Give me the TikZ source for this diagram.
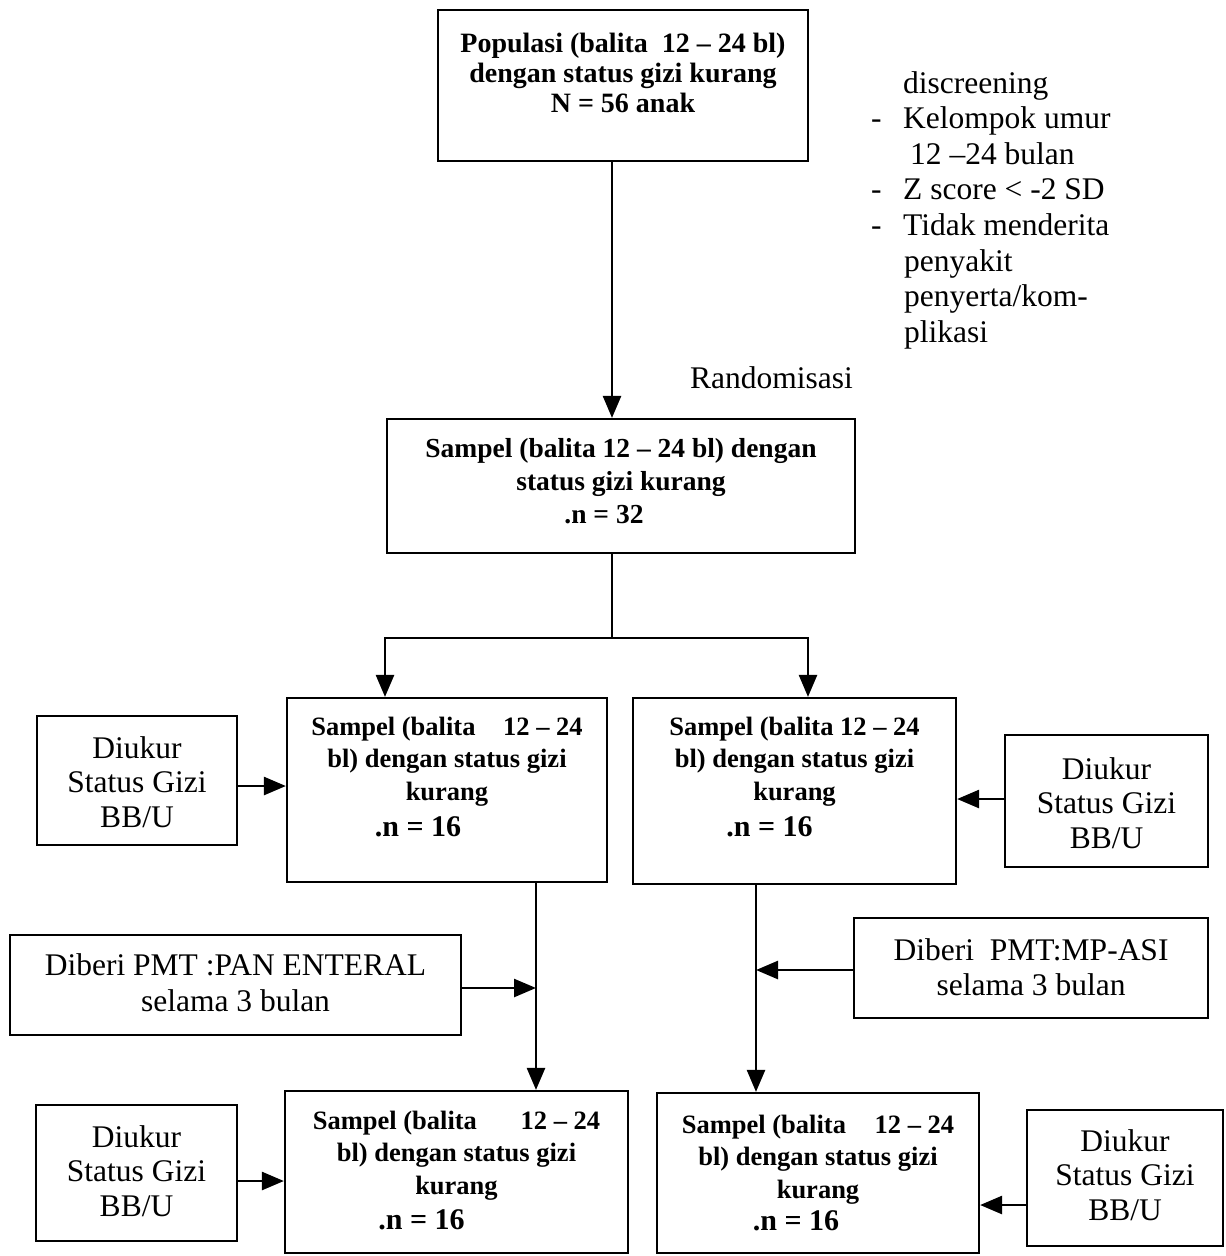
\documentclass[tikz,border=0pt]{standalone}
\usepackage{fontspec}
\setmainfont{Liberation Serif}
\usetikzlibrary{arrows.meta}
\newcommand\mkbox[5]{\node[bx, minimum width={(#4-#2)*1pt}, minimum height={(#5-#3)*1pt}] (#1) at ({(#2+#4)/2},{(#3+#5)/2}) {};}
\newcommand\tl[2]{\parbox[t]{#1}{\centering #2}}
\newcommand\nn{\fontsize{30}{32.5}\selectfont}
\tikzset{
  bx/.style={draw, line width=2.2pt, inner sep=0pt, rectangle},
  ln/.style={line width=2.6pt},
  ar/.style={line width=2.6pt, -{Triangle[length=22pt,width=18pt]}},
  rt/.style={anchor=base, inner sep=0pt, font=\fontsize{31.5}{34.5}\selectfont},
  bt/.style={anchor=base, inner sep=0pt, font=\bfseries\fontsize{26.5}{32.5}\selectfont},
}
\begin{document}
\begin{tikzpicture}[x=1pt,y=-1pt]
\useasboundingbox[fill=white] (0,0) rectangle (1226,1256);

% boxes
\mkbox{pop}{438}{10}{808}{161}
\mkbox{s2}{387}{419}{855}{553}
\mkbox{b3L}{287}{698}{607}{882}
\mkbox{b3R}{633}{698}{956}{884}
\mkbox{dL1}{37}{716}{237}{845}
\mkbox{dR1}{1005}{735}{1208}{867}
\mkbox{pan}{10}{935}{461}{1035}
\mkbox{mp}{854}{918}{1208}{1018}
\mkbox{b4L}{285}{1091}{628}{1253}
\mkbox{b4R}{657}{1093}{979}{1253}
\mkbox{dL2}{36}{1105}{237}{1241}
\mkbox{dR2}{1027}{1110}{1223}{1246}

% texts
\node[bt, font=\bfseries\fontsize{28}{30}\selectfont] (popt) at (623,52) {\tl{360pt}{Populasi (balita\ \ 12 – 24 bl)\\dengan status gizi kurang\\N = 56 anak}};
\node[bt, font=\bfseries\fontsize{27.5}{33}\selectfont] (s2t) at (621,457) {\tl{460pt}{Sampel (balita 12 – 24 bl) dengan\\status gizi kurang\\\hspace*{-34pt}.n = 32}};
\node[bt] (b3Lt) at (447,735) {\tl{315pt}{Sampel (balita\hspace{21pt} 12 – 24\\bl) dengan status gizi\\kurang\\[4pt]\hspace*{-58pt}{\nn .n = 16}}};
\node[bt] (b3Rt) at (794.5,735) {\tl{315pt}{Sampel (balita 12 – 24\\bl) dengan status gizi\\kurang\\[4pt]\hspace*{-50pt}{\nn .n = 16}}};
\node[bt] (b4Lt) at (456.5,1129) {\tl{335pt}{Sampel (balita\hspace{37pt} 12 – 24\\bl) dengan status gizi\\kurang\\[3pt]\hspace*{-70pt}{\nn .n = 16}}};
\node[bt] (b4Rt) at (818,1133) {\tl{315pt}{Sampel (balita\hspace{22pt} 12 – 24\\bl) dengan status gizi\\kurang\\[0pt]\hspace*{-44pt}{\nn .n = 16}}};
\node[rt] (dL1t) at (137,758) {\tl{195pt}{Diukur\\Status Gizi\\BB/U}};
\node[rt] (dR1t) at (1106.5,779) {\tl{195pt}{Diukur\\Status Gizi\\BB/U}};
\node[rt] (dL2t) at (136.5,1147) {\tl{195pt}{Diukur\\Status Gizi\\BB/U}};
\node[rt] (dR2t) at (1125,1151) {\tl{195pt}{Diukur\\Status Gizi\\BB/U}};
\node[rt, font=\fontsize{31.5}{36}\selectfont] (pant) at (235.5,975) {\tl{445pt}{Diberi PMT :PAN ENTERAL\\selama 3 bulan}};
\node[rt, font=\fontsize{31.5}{35}\selectfont] (mpt) at (1031,960) {\tl{345pt}{Diberi\ \ PMT:MP-ASI\\selama 3 bulan}};
\node[rt, anchor=base west, font=\fontsize{31.5}{35.6}\selectfont] (scr) at (871,93) {\parbox[t]{350pt}{\raggedright
\hspace*{32pt}discreening\\
\makebox[32pt][l]{-}Kelompok umur\\
\hspace*{39pt}12 –24 bulan\\
\makebox[32pt][l]{-}Z score < -2 SD\\
\makebox[32pt][l]{-}Tidak menderita\\
\hspace*{33pt}penyakit\\
\hspace*{33pt}penyerta/kom-\\
\hspace*{33pt}plikasi}};
\node[rt, anchor=base west] (rnd) at (690,388) {Randomisasi};

% connectors
\coordinate (fk) at (612,638);
\coordinate (fkL) at (385,638);
\coordinate (fkR) at (808,638);
\coordinate (vL) at (536,0);
\coordinate (vR) at (756,0);
\coordinate (yA) at (0,786);
\coordinate (yB) at (0,799);
\coordinate (yP) at (0,988);
\coordinate (yM) at (0,970);
\coordinate (yC) at (0,1181);
\coordinate (yD) at (0,1205);

\draw[ar] ([xshift=-11pt]pop.south) -- ([xshift=-9pt]s2.north);
\draw[ln] ([xshift=-9pt]s2.south) -- (fk);
\draw[ln, line cap=rect] (fkL) -- (fkR);
\draw[ar] (fkL) -- (fkL |- b3L.north);
\draw[ar] (fkR) -- (fkR |- b3R.north);
\draw[ar] (dL1.east |- yA) -- (b3L.west |- yA);
\draw[ar] (dR1.west |- yB) -- (b3R.east |- yB);
\draw[ar] (b3L.south -| vL) -- (b4L.north -| vL);
\draw[ar] (b3R.south -| vR) -- (b4R.north -| vR);
\draw[ar] (pan.east |- yP) -- (vL |- yP);
\draw[ar] (mp.west |- yM) -- (vR |- yM);
\draw[ar] (dL2.east |- yC) -- (b4L.west |- yC);
\draw[ar] (dR2.west |- yD) -- (b4R.east |- yD);
\end{tikzpicture}
\end{document}
